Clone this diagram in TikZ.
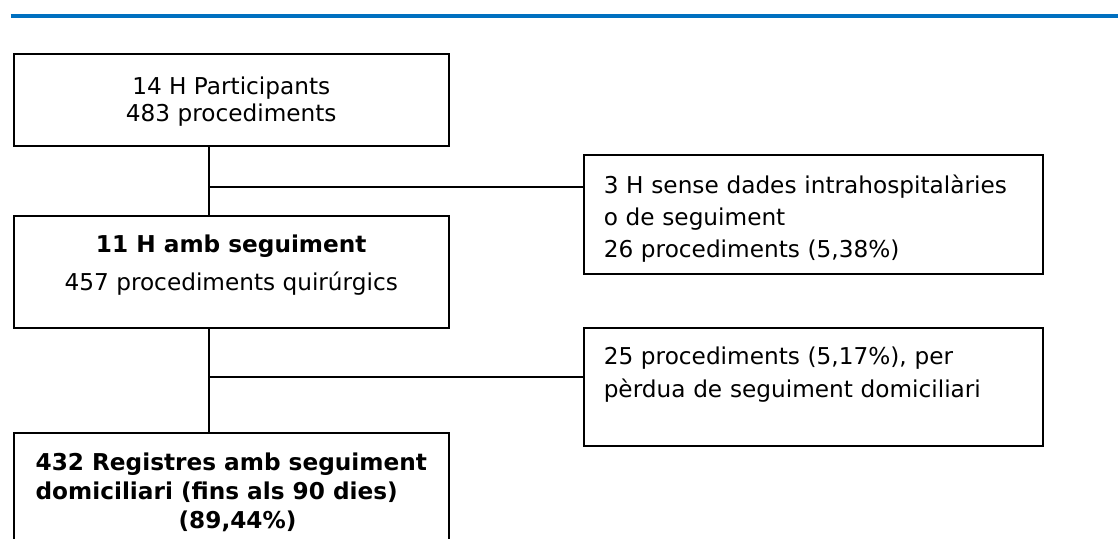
\documentclass[tikz,border=0pt]{standalone}
\usepackage{fontspec}
\setmainfont{DejaVu Sans}
\begin{document}
\begin{tikzpicture}[x=1pt,y=-1pt,
  box/.style={draw, line width=2.1pt, inner sep=0pt, anchor=north west},
  link/.style={line width=2.1pt}]
\useasboundingbox (0,0) rectangle (1118,538);

% rule at the top
\draw [line width=4pt, color={rgb,255:red,0;green,112;blue,192}] (10.7,15.7) -- (1118,15.7);

% left column
\node (hosp) at (12.7,52.5) [box, minimum width=435pt, minimum height=92pt, align=center,
  text height=45pt, text depth=2pt,
  font=\fontsize{23.2pt}{27pt}\selectfont] {14 H Participants\\483 procediments};
\node (follow) at (12.7,215) [box, minimum width=435pt, minimum height=111.7pt, align=center,
  text height=56pt, text depth=18.2pt,
  font=\fontsize{23.2pt}{27pt}\selectfont] {\textbf{11 H amb seguiment}\\[11pt]457 procediments quirúrgics};
\node (regs) at (12.7,431.7) [box, minimum width=435pt, minimum height=121pt, align=left,
  text height=75pt, text depth=5.4pt,
  font=\fontsize{23.2pt}{29pt}\selectfont\bfseries] {432 Registres amb seguiment\\domiciliari (fins als 90 dies)\\\hspace*{143pt}(89,44\%)};

% right column
\node (nodata) at (582.7,154) [box, minimum width=459.3pt, minimum height=118.7pt, inner xsep=20pt,
  text height=17.6pt, text depth=60.3pt,
  text width=419.3pt, align=left, font=\fontsize{23.2pt}{32pt}\selectfont] {3 H sense dades intrahospitalàries\\o de seguiment\\26 procediments (5,38\%)};
\node (lost) at (582.7,327) [box, minimum width=459.3pt, minimum height=118pt, inner xsep=20pt,
  text height=17.6pt, text depth=63.6pt,
  text width=419.3pt, align=left, font=\fontsize{23.2pt}{33pt}\selectfont] {25 procediments (5,17\%), per\\pèrdua de seguiment domiciliari};

% connectors
\coordinate (j1) at (209,186.7);
\coordinate (j2) at (209,376.7);
\draw [link] (hosp.south -| j1) -- (follow.north -| j1);
\draw [link] (j1) -- (j1 -| nodata.west);
\draw [link] (follow.south -| j2) -- (regs.north -| j2);
\draw [link] (j2) -- (j2 -| lost.west);
\end{tikzpicture}
\end{document}
